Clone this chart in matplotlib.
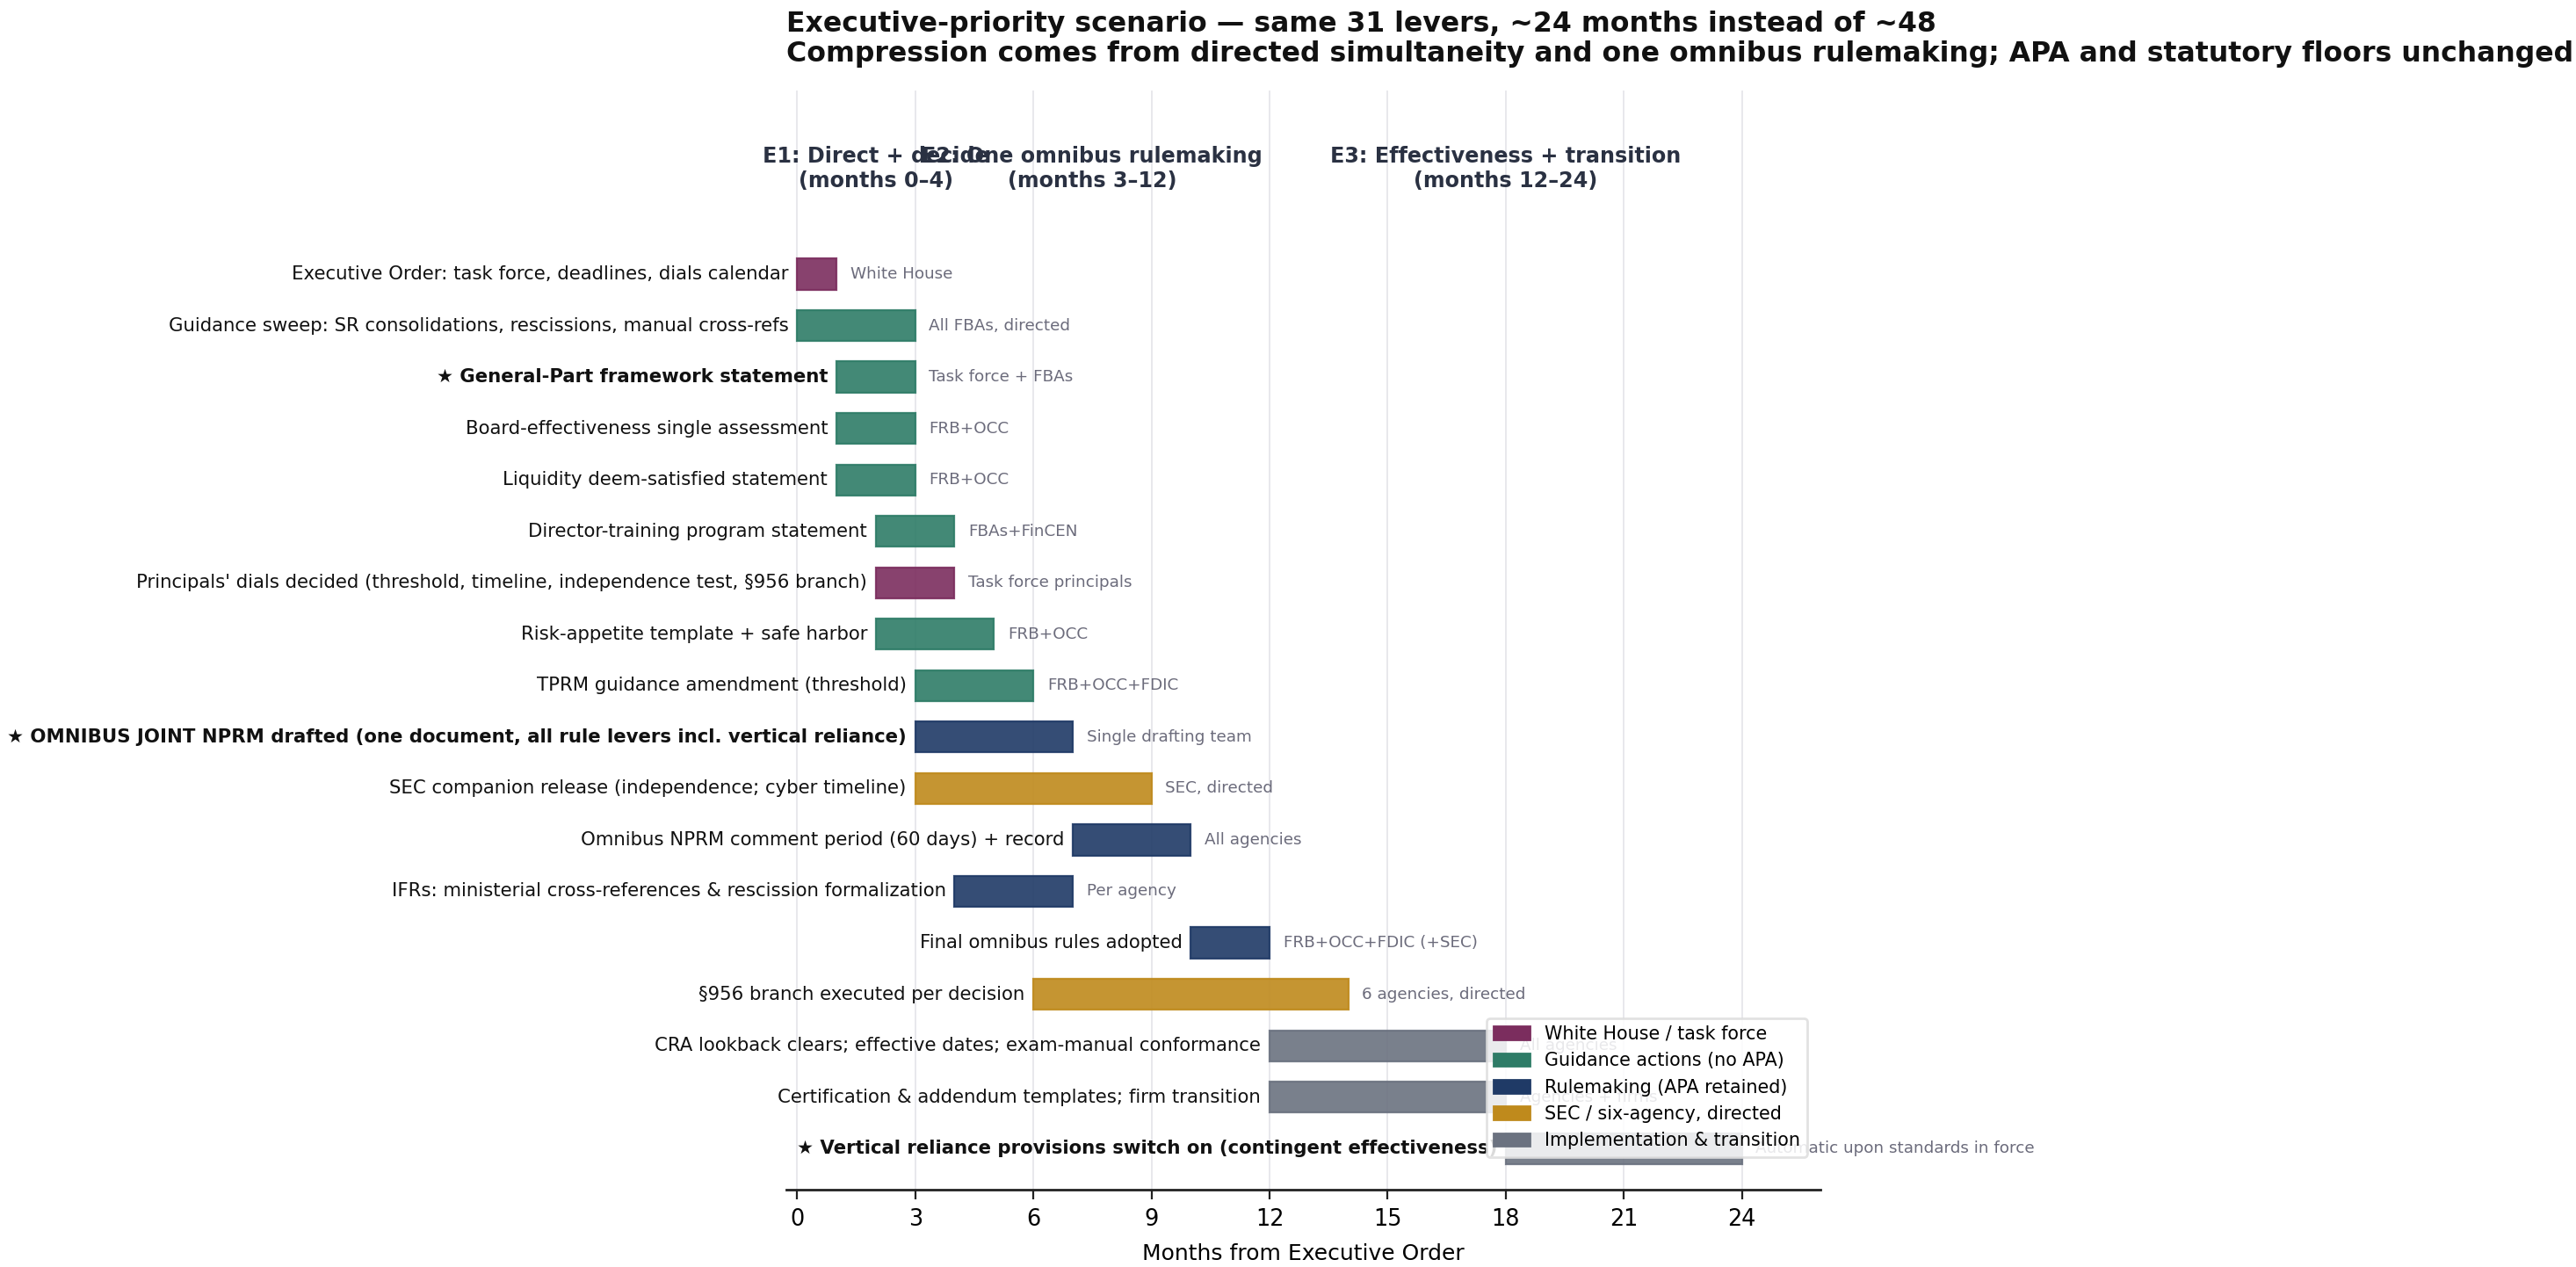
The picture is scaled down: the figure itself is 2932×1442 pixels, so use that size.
import matplotlib
matplotlib.use("Agg")
import matplotlib.pyplot as plt
from matplotlib.patches import Patch

plt.rcParams['font.family'] = ['DejaVu Sans']

tasks = [
    "Executive Order: task force, deadlines, dials calendar",
    "Guidance sweep: SR consolidations, rescissions, manual cross-refs",
    "\u2605 General-Part framework statement",
    "Board-effectiveness single assessment",
    "Liquidity deem-satisfied statement",
    "Director-training program statement",
    "Principals' dials decided (threshold, timeline, independence test, \u00a7956 branch)",
    "Risk-appetite template + safe harbor",
    "TPRM guidance amendment (threshold)",
    "\u2605 OMNIBUS JOINT NPRM drafted (one document, all rule levers incl. vertical reliance)",
    "SEC companion release (independence; cyber timeline)",
    "Omnibus NPRM comment period (60 days) + record",
    "IFRs: ministerial cross-references & rescission formalization",
    "Final omnibus rules adopted",
    "\u00a7956 branch executed per decision",
    "CRA lookback clears; effective dates; exam-manual conformance",
    "Certification & addendum templates; firm transition",
    "\u2605 Vertical reliance provisions switch on (contingent effectiveness)",
]
starts = [0, 0, 1, 1, 1, 2, 2, 2, 3, 3, 3, 7, 4, 10, 6, 12, 12, 18]
ends = [1, 3, 3, 3, 3, 4, 4, 5, 6, 7, 9, 10, 7, 12, 14, 18, 18, 24]
cats = ["wh", "guid", "guid", "guid", "guid", "guid", "wh", "guid", "guid",
        "rule", "sec", "rule", "rule", "rule", "sec", "impl", "impl", "impl"]
owners = [
    "White House", "All FBAs, directed", "Task force + FBAs", "FRB+OCC", "FRB+OCC",
    "FBAs+FinCEN", "Task force principals", "FRB+OCC", "FRB+OCC+FDIC",
    "Single drafting team", "SEC, directed", "All agencies", "Per agency",
    "FRB+OCC+FDIC (+SEC)", "6 agencies, directed", "All agencies",
    "Agencies + firms", "Automatic upon standards in force",
]
bold_rows = [False, False, True, False, False, False, False, False, False,
             True, False, False, False, False, False, False, False, True]

cat_keys = ["wh", "guid", "rule", "sec", "impl"]
cat_labels = ["White House / task force", "Guidance actions (no APA)",
              "Rulemaking (APA retained)", "SEC / six-agency, directed",
              "Implementation & transition"]
cat_colors = {"wh": "#7B2D5E", "guid": "#2E7C67", "rule": "#1F3A66",
              "sec": "#BF8A1C", "impl": "#6B7280"}

phase_labels = ["E1: Direct + decide", "E2: One omnibus rulemaking",
                "E3: Effectiveness + transition"]
phase_starts = [0, 3, 12]
phase_ends = [4, 12, 24]

xticks = [0, 3, 6, 9, 12, 15, 18, 21, 24]

fig = plt.figure(figsize=(14.66, 7.21), dpi=200)
ax = fig.add_axes([0.3053, 0.061, 0.4015, 0.8676])

n = len(tasks)
ys = list(range(n))
for i in range(n):
    c = cat_colors[cats[i]]
    ax.barh(ys[i], ends[i] - starts[i], left=starts[i], height=0.6,
            color=c, alpha=0.9, edgecolor=c, linewidth=0.8, zorder=3)
    ax.text(starts[i] - 0.22, ys[i], tasks[i], ha='right', va='center',
            fontsize=7.65, color='#111111',
            fontweight='bold' if bold_rows[i] else 'normal', zorder=4)
    ax.text(ends[i] + 0.35, ys[i], owners[i], ha='left', va='center',
            fontsize=6.6, color='#6B6B7B', zorder=4)

for lab, s, e in zip(phase_labels, phase_starts, phase_ends):
    ax.text((s + e) / 2, -2.05, f"{lab}\n(months {s}\u2013{e})", ha='center',
            va='center', fontsize=8.6, fontweight='bold', color='#2A3142',
            linespacing=1.2)

ax.set_xlim(-0.27, 26.0)
ax.set_ylim(17.8, -3.57)
ax.set_xticks(xticks)
ax.set_xticklabels([str(t) for t in xticks])
ax.set_yticks([])
ax.tick_params(axis='x', labelsize=9.2, length=4, width=0.8, color='#222222')
ax.set_xlabel("Months from Executive Order", fontsize=9.0, labelpad=5)
for t in xticks:
    ax.axvline(t, color='#E8E8EC', linewidth=0.7, zorder=0)
for s in ['top', 'right', 'left']:
    ax.spines[s].set_visible(False)
ax.spines['bottom'].set_color('#222222')
ax.spines['bottom'].set_linewidth(1.0)

handles = [Patch(facecolor=cat_colors[k], edgecolor=cat_colors[k], label=l)
           for k, l in zip(cat_keys, cat_labels)]
leg = ax.legend(handles=handles, loc='lower right', bbox_to_anchor=(0.987, 0.03),
                borderaxespad=0, fontsize=7.45, frameon=True, framealpha=0.85,
                edgecolor='#DDDDDD', handlelength=2.0, labelspacing=0.5)
leg.set_zorder(10)

fig.text(0.3053, 0.992,
         "Executive-priority scenario \u2014 same 31 levers, ~24 months instead of ~48\n"
         "Compression comes from directed simultaneity and one omnibus rulemaking; "
         "APA and statutory floors unchanged",
         ha='left', va='top', fontsize=11.35, fontweight='bold', color='#111111',
         linespacing=1.15)

fig.savefig("out.png", dpi=200)
